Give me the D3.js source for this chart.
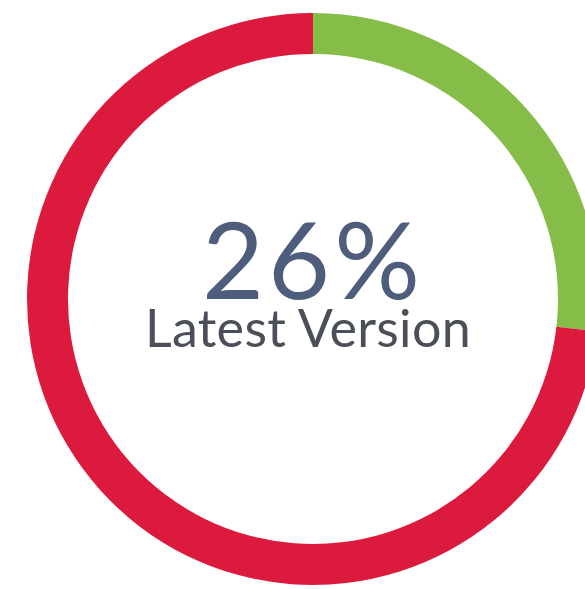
<!DOCTYPE html>
<html>
<head>
<meta charset="utf-8">
<script src="https://cdn.jsdelivr.net/npm/d3@7"></script>
<style>
  html, body { margin: 0; padding: 0; background: #fff; }
  svg { display: block; }
</style>
</head>
<body>
<svg id="chart"></svg>
<script>
// data
const categories = ["Latest Version", "Older Versions"];
const shares = [26.8, 73.2];
const colors = ["#86bd48", "#dc1a3e"];
const centerValue = "26%";
const centerLabel = "Latest Version";

const width = 585, height = 589;
const cx = 313, cy = 299;
const outerR = 286, innerR = 245;

const svg = d3.select("#chart")
    .attr("width", width)
    .attr("height", height);

const g = svg.append("g")
    .attr("transform", "translate(" + cx + "," + cy + ")");

// pie layout, keep data order, start at 12 o'clock clockwise
const pie = d3.pie()
    .sort(null)
    .value(d => d);

const arc = d3.arc()
    .innerRadius(innerR)
    .outerRadius(outerR);

g.selectAll("path")
  .data(pie(shares))
  .enter().append("path")
    .attr("d", arc)
    .attr("fill", (d, i) => colors[i]);

// center text
g.append("text")
    .attr("x", 0)
    .attr("y", 0)
    .attr("text-anchor", "middle")
    .attr("font-family", "Lato, 'Noto Sans', sans-serif")
    .attr("font-size", 107)
    .attr("letter-spacing", 4)
    .attr("fill", "#4e5d7b")
    .text(centerValue);

g.append("text")
    .attr("x", -5)
    .attr("y", 48)
    .attr("text-anchor", "middle")
    .attr("font-family", "Lato, 'Noto Sans', sans-serif")
    .attr("font-size", 52)
    .attr("letter-spacing", 0.3)
    .attr("fill", "#4b5058")
    .text(centerLabel);
</script>
</body>
</html>
